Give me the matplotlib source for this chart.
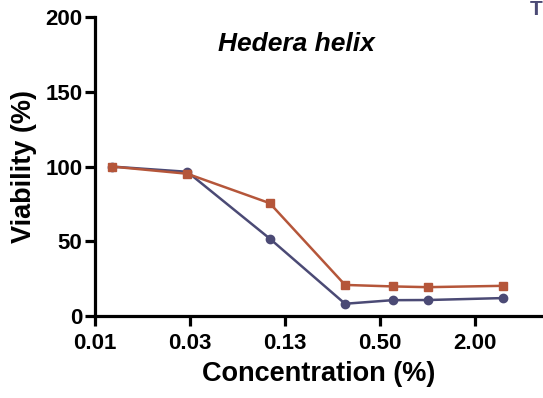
import matplotlib
matplotlib.use('Agg')
import matplotlib.pyplot as plt

# data
conc = [0.01, 0.03, 0.1, 0.3, 0.6, 1.0, 3.0]
viab_square = [100, 95.2, 75.5, 20.8, 19.8, 19.3, 20.2]
viab_circle = [100, 96.5, 51.8, 8.2, 10.6, 10.7, 12.0]
xtick_pos = [2 ** -7, 2 ** -5, 2 ** -3, 2 ** -1, 2 ** 1]
xtick_labels = ['0.01', '0.03', '0.13', '0.50', '2.00']
ytick_pos = [0, 50, 100, 150, 200]

plt.rcParams['font.family'] = ['Liberation Sans', 'DejaVu Sans']

fig = plt.figure(figsize=(5.43, 3.98), dpi=100)
ax = fig.add_axes([0.175, 0.206, 0.825, 0.751])

ax.plot(conc, viab_circle, '-o', color='#4B4A75', markersize=6, linewidth=1.8, zorder=3)
ax.plot(conc, viab_square, '-s', color='#B5563A', markersize=6, linewidth=1.8, zorder=4)

ax.set_xscale('log', base=2)
ax.set_xlim(2 ** -7, 2 ** 2.43)
ax.set_ylim(0, 200)
ax.set_xticks(xtick_pos)
ax.set_xticklabels(xtick_labels)
ax.minorticks_off()
ax.set_yticks(ytick_pos)

for side in ['top', 'right']:
    ax.spines[side].set_visible(False)
for side in ['left', 'bottom']:
    ax.spines[side].set_linewidth(2.3)
ax.tick_params(axis='both', direction='out', length=7, width=2.3, labelsize=16)
ax.tick_params(axis='x', pad=5)
ax.tick_params(axis='y', pad=2)
for lbl in ax.get_xticklabels() + ax.get_yticklabels():
    lbl.set_fontweight('bold')

ax.set_xlabel('Concentration (%)', fontsize=19.5, fontweight='bold', labelpad=5)
ax.set_ylabel('Viability (%)', fontsize=19.5, fontweight='bold', labelpad=6)
ax.text(0.45, 0.91, 'Hedera helix', transform=ax.transAxes, ha='center', va='center',
        fontsize=19, fontweight='bold', fontstyle='italic')

# fragment of the neighbouring panel at the top right corner
fig.text(1.0, 1.0, 'T', ha='right', va='top', fontsize=15, fontweight='bold', color='#4B4A75')

fig.savefig('out.png', dpi=100)
